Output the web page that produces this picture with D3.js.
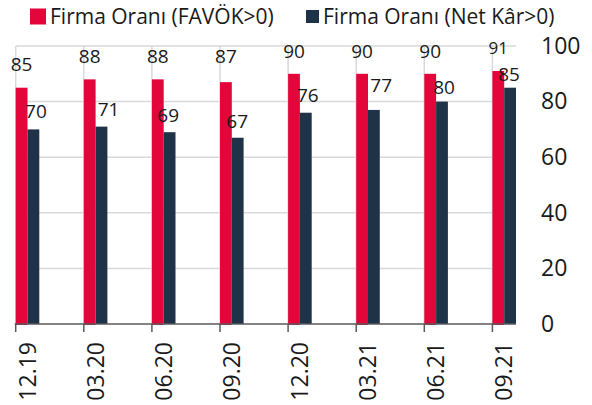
<!DOCTYPE html>
<html>
<head>
<meta charset="utf-8">
<script src="https://cdn.jsdelivr.net/npm/d3@7"></script>
<style>
  html, body { margin: 0; padding: 0; background: #fff; }
  svg { display: block; font-family: "Open Sans", sans-serif; }
</style>
</head>
<body>
<svg id="chart" width="592" height="405"></svg>
<script>
// Quarter labels and the two firm-share series (%)
const categories = ["12.19", "03.20", "06.20", "09.20", "12.20", "03.21", "06.21", "09.21"];
const favokPositive = [85, 88, 88, 87, 90, 90, 90, 91];
const netProfitPositive = [70, 71, 69, 67, 76, 77, 80, 85];
const seriesNames = ["Firma Oranı (FAVÖK>0)", "Firma Oranı (Net Kâr>0)"];
const yTicks = [0, 20, 40, 60, 80, 100];

// Label placement: lift above the bar top and sideways shift (px), to keep labels clear of each other
const favokLabelLift = [17, 16.7, 16.7, 19, 15.5, 15.5, 15.5, 17];
const netLabelLift = [11, 10.6, 10.5, 9.4, 11, 17.7, 7.3, 7];
const netLabelShift = [2.5, 7, -1.4, -0.5, 2, 7.3, 2, -1];

const RED = "#e2063b";
const NAVY = "#1f3348";
const GRID = "#d9d9d9";
const TEXT = "#1a1a1a";

const svg = d3.select("#chart");

// Scales: each quarter owns one band; the pair of bars sits at the band's start
const x = d3.scaleBand().domain(categories).range([15.7, 15.7 + 68.1 * categories.length]).padding(0);
const y = d3.scaleLinear().domain([0, 100]).range([324, 46]);
const barW = 11.8;
const plotLeft = x(categories[0]);
const plotRight = x(categories[categories.length - 1]) + 2 * barW;

// Horizontal gridlines
svg.append("g").selectAll("line").data(yTicks.filter(d => d > 0)).join("line")
  .attr("x1", plotLeft).attr("x2", plotRight)
  .attr("y1", d => y(d)).attr("y2", d => y(d))
  .attr("stroke", GRID).attr("stroke-width", 1.5);

// Vertical gridlines at each quarter boundary
svg.append("g").selectAll("line").data(categories).join("line")
  .attr("x1", d => x(d)).attr("x2", d => x(d))
  .attr("y1", y(100)).attr("y2", y(0))
  .attr("stroke", GRID).attr("stroke-width", 1.5);

// Bars
const groups = svg.append("g").selectAll("g").data(categories).join("g");
groups.append("rect")
  .attr("x", d => x(d))
  .attr("y", (d, i) => y(favokPositive[i]))
  .attr("width", barW)
  .attr("height", (d, i) => y(0) - y(favokPositive[i]) + 1)
  .attr("fill", RED);
groups.append("rect")
  .attr("x", d => x(d) + barW)
  .attr("y", (d, i) => y(netProfitPositive[i]))
  .attr("width", barW)
  .attr("height", (d, i) => y(0) - y(netProfitPositive[i]))
  .attr("fill", NAVY);

// Value labels
groups.append("text")
  .attr("x", d => x(d) + barW / 2)
  .attr("y", (d, i) => y(favokPositive[i]) - favokLabelLift[i])
  .attr("text-anchor", "middle")
  .attr("font-size", (d, i) => i === categories.length - 1 ? 17 : 19)
  .attr("fill", TEXT)
  .text((d, i) => favokPositive[i]);
groups.append("text")
  .attr("x", (d, i) => x(d) + barW * 1.5 + netLabelShift[i])
  .attr("y", (d, i) => y(netProfitPositive[i]) - netLabelLift[i])
  .attr("text-anchor", "middle")
  .attr("font-size", 19)
  .attr("fill", TEXT)
  .text((d, i) => netProfitPositive[i]);

// Category axis: baseline, tick marks and rotated quarter labels
svg.append("line")
  .attr("x1", plotLeft - 1).attr("x2", plotRight)
  .attr("y1", y(0)).attr("y2", y(0))
  .attr("stroke", "#5a5a5a").attr("stroke-width", 1.5);
svg.append("g").selectAll("line").data(categories).join("line")
  .attr("x1", d => x(d)).attr("x2", d => x(d))
  .attr("y1", y(0)).attr("y2", y(0) + 8)
  .attr("stroke", "#5a5a5a").attr("stroke-width", 1.5);
svg.append("g").selectAll("text").data(categories).join("text")
  .attr("transform", d => `translate(${x(d) + barW},342) rotate(-90)`)
  .attr("text-anchor", "end")
  .attr("dy", "0.35em")
  .attr("font-size", 23)
  .attr("fill", TEXT)
  .text(d => d);

// Value axis on the right
const yAxis = d3.axisRight(y).tickValues(yTicks).tickSize(0).tickPadding(0);
const yg = svg.append("g").attr("transform", "translate(541,0)").call(yAxis);
yg.select(".domain").remove();
yg.selectAll("text")
  .attr("font-size", 23)
  .attr("font-family", "Open Sans, sans-serif")
  .attr("fill", TEXT)
  .attr("x", 0);

// Legend
const legend = svg.append("g");
legend.append("rect").attr("x", 30).attr("y", 8.5).attr("width", 16).attr("height", 16).attr("fill", RED);
legend.append("text").attr("x", 50).attr("y", 23.5).attr("font-size", 21).attr("fill", TEXT).text(seriesNames[0]);
legend.append("rect").attr("x", 306).attr("y", 10).attr("width", 13).attr("height", 13).attr("fill", NAVY);
legend.append("text").attr("x", 323).attr("y", 23.5).attr("font-size", 21).attr("fill", TEXT).text(seriesNames[1]);
</script>
</body>
</html>
